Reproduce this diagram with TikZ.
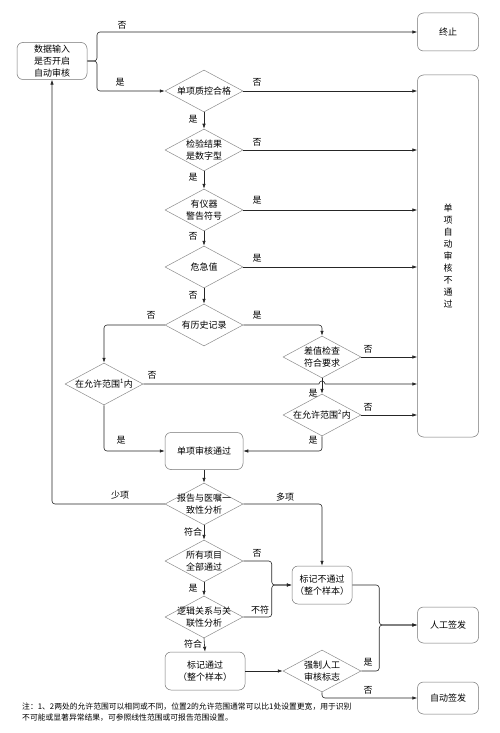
\documentclass[tikz,border=0pt]{standalone}
\usepackage{fontspec}
\setmainfont{Noto Sans CJK SC}
\usetikzlibrary{shapes.geometric,arrows.meta}
\newcommand{\dtxt}[1]{\makebox[30pt]{#1}}

\begin{document}
\begin{tikzpicture}
[x=1pt,y=-1pt,%
  font=\fontsize{9}{12}\selectfont,%
  >={Latex[length=5pt,width=3.5pt]},%
  box/.style={shape=rectangle,rounded corners=6pt,draw=black!55,line width=0.5pt,align=center,inner sep=0pt},%
  dec/.style={shape=diamond,aspect=1.86,draw=black!45,line width=0.5pt,align=center,inner sep=0pt,minimum width=78pt,minimum height=42pt},%
  lab/.style={inner sep=0pt},%
  link/.style={->,line width=0.6pt,black!85,rounded corners=3pt}]
\useasboundingbox (0,0) rectangle (500,733);
\node[box,minimum width=70pt,minimum height=37pt] (input) at (52,61) {数据输入\\是否开启\\自动审核};
\node[box,minimum width=61pt,minimum height=38pt] (stop) at (448,32) {终止};
\node[box,minimum width=61pt,minimum height=362pt] (fail) at (448,256) {单\\项\\自\\动\\审\\核\\不\\通\\过};
\node[dec] (qc) at (204,91) {\dtxt{单项质控合格}};
\node[dec] (num) at (204,150) {\dtxt{检验结果}\\\dtxt{是数字型}};
\node[dec] (warn) at (204,210) {\dtxt{有仪器}\\\dtxt{警告符号}};
\node[dec] (crit) at (204,267) {\dtxt{危急值}};
\node[dec] (hist) at (204,325) {\dtxt{有历史记录}};
\node[dec] (rng1) at (104,384) {\dtxt{在允许范围\textsuperscript{1}内}};
\node[dec] (diff) at (322,357) {\dtxt{差值检查}\\\dtxt{符合要求}};
\node[dec] (rng2) at (322,415) {\dtxt{在允许范围\textsuperscript{2}内}};
\node[box,minimum width=78pt,minimum height=37pt] (pass) at (204,451) {单项审核通过};
\node[dec] (cons) at (204,504) {\dtxt{报告与医嘱一}\\\dtxt{致性分析}};
\node[dec] (all) at (204,561) {\dtxt{所有项目}\\\dtxt{全部通过}};
\node[dec] (logic) at (204,617) {\dtxt{逻辑关系与关}\\\dtxt{联性分析}};
\node[box,minimum width=60pt,minimum height=38pt] (mfail) at (322,585) {标记不通过\\（整个样本）};
\node[box,minimum width=80pt,minimum height=38pt] (mpass) at (205,671) {标记通过\\（整个样本）};
\node[dec] (force) at (322,671) {\dtxt{强制人工}\\\dtxt{审核标志}};
\node[box,minimum width=61pt,minimum height=36pt] (manual) at (448,625) {人工签发};
\node[box,minimum width=61pt,minimum height=32pt] (auto) at (448,698) {自动签发};
\coordinate (j0) at (97,61);
\coordinate (j1) at ([xshift=-20pt]mfail.west);
\coordinate (j2) at ([xshift=-38pt]manual.west);
\coordinate (hop) at (rng1.east -| diff.south);
\draw[link] (input.east) -- (j0) |- (stop.west);
\draw[link] (input.east) -- (j0) |- (qc.west);
\draw[link] (qc.east) -- (qc.east -| fail.west);
\draw[link] (num.east) -- (num.east -| fail.west);
\draw[link] (warn.east) -- (warn.east -| fail.west);
\draw[link] (crit.east) -- (crit.east -| fail.west);
\draw[link] (qc.south) -- (num.north);
\draw[link] (num.south) -- (warn.north);
\draw[link] (warn.south) -- (crit.north);
\draw[link] (crit.south) -- (hist.north);
\draw[link] (hist.west) -| (rng1.north);
\draw[link] (hist.east) -| (diff.north);
\draw[link] (diff.east) -- (diff.east -| fail.west);
\draw[link,sharp corners] (rng1.east) -- ([xshift=-3pt]hop) arc[start angle=180,end angle=0,radius=3pt] -- (rng1.east -| fail.west);
\draw[link] (diff.south) -- (rng2.north);
\draw[link] (rng2.east) -- (rng2.east -| fail.west);
\draw[link] (rng2.south) |- (pass.east);
\draw[link] (rng1.south) |- (pass.west);
\draw[link] (pass.south) -- (cons.north);
\draw[link] (cons.west) -| (input.south);
\draw[link] (cons.east) -| (mfail.north);
\draw[link] (cons.south) -- (all.north);
\draw[link] (all.south) -- (logic.north);
\draw[link] (logic.south) -- (mpass.north);
\draw[link] (all.east) -| (j1) -- (mfail.west);
\draw[link] (logic.east) -| (j1) -- (mfail.west);
\draw[link] (mpass.east) -- (force.west);
\draw[link] (mfail.east) -| (j2) -- (manual.west);
\draw[link] (force.east) -| (j2) -- (manual.west);
\draw[link] (force.south) |- (auto.west);
\node[lab] (lstop) at (122,25) {否};
\node[lab] (lqc) at (120,82) {是};
\node[lab] (qcno) at (257,82) {否};
\node[lab] (qcyes) at (193,119) {是};
\node[lab] (numno) at (257,142) {否};
\node[lab] (numyes) at (193,177) {是};
\node[lab] (warnyes) at (257,200) {是};
\node[lab] (warnno) at (193,236) {否};
\node[lab] (crityes) at (257,258) {是};
\node[lab] (critno) at (193,295) {否};
\node[lab] (histno) at (151,315) {否};
\node[lab] (histyes) at (257,315) {是};
\node[lab] (diffno) at (368,349) {否};
\node[lab] (rngino) at (152,375) {否};
\node[lab] (diffyes) at (313,393) {是};
\node[lab] (rngiino) at (368,407) {否};
\node[lab] (rngiiyes) at (313,440) {是};
\node[lab] (rngiyes) at (121,440) {是};
\node[lab] (consfew) at (120,495) {少项};
\node[lab] (consmany) at (285,497) {多项};
\node[lab] (consok) at (193,532) {符合};
\node[lab] (allno) at (257,553) {否};
\node[lab] (allyes) at (193,588) {是};
\node[lab] (logicno) at (260,610) {不符};
\node[lab] (logicok) at (193,644) {符合};
\node[lab] (forceyes) at (368,662) {是};
\node[lab] (forceno) at (368,690) {否};
\node[lab,anchor=north west,align=left,font=\fontsize{7.8}{11}\selectfont] (note) at (22,703) {注：1、2两处的允许范围可以相同或不同，位置2的允许范围通常可以比1处设置更宽，用于识别\\不可能或显著异常结果，可参照线性范围或可报告范围设置。};
\end{tikzpicture}
\end{document}
